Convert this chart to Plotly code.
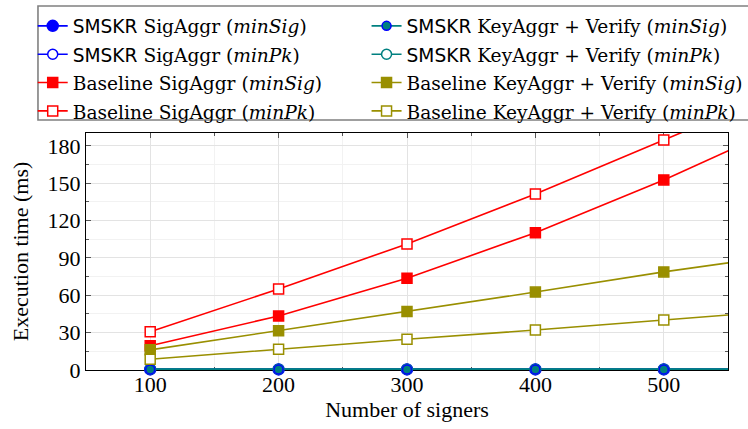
import plotly.graph_objects as go

signers = [100, 200, 300, 400, 500]
ext_x = [500, 600]

smskr_sig_minsig = [0.5, 0.5, 0.5, 0.5, 0.5]
smskr_sig_minpk = [0.6, 0.6, 0.6, 0.6, 0.6]
smskr_key_minsig = [0.5, 0.5, 0.5, 0.5, 0.5]
smskr_key_minpk = [0.7, 0.7, 0.7, 0.7, 0.7]
base_sig_minsig = [19.5, 43.4, 73.7, 110.3, 152.7]
base_sig_minpk = [30.8, 65.1, 101.3, 141.4, 184.8]
base_key_minsig = [16.2, 31.6, 47.0, 62.6, 78.8]
base_key_minpk = [8.6, 16.7, 24.7, 32.1, 40.2]
# continuation of each line beyond the last plotted point (to the right edge)
ext_vals = {
    "smskr_sig_minsig": [0.5, 0.5],
    "smskr_sig_minpk": [0.6, 0.6],
    "smskr_key_minsig": [0.5, 0.5],
    "smskr_key_minpk": [0.7, 0.7],
    "base_sig_minsig": [152.7, 199.3],
    "base_sig_minpk": [184.8, 228.0],
    "base_key_minsig": [78.8, 93.4],
    "base_key_minpk": [40.2, 48.2],
}
y_ticks = [0, 30, 60, 90, 120, 150, 180]

BLUE = "#0000ff"
TEAL = "#008080"
RED = "#ff0000"
OLIVE = "#998f00"
SERIF = "Liberation Serif, Times New Roman, serif"

def lab(t, smskr=False):
    pre = "<span style=\"font-family:DejaVu Sans\">SMSKR</span> " if smskr else ""
    return f"<span style=\"font-family:DejaVu Serif;font-size:18.6px\">{pre}{t}</span>"

# drawing order follows the original (row-wise legend order)
series = [
    ("smskr_sig_minsig", lab("SigAggr (<i>minSig</i>)", True), smskr_sig_minsig, BLUE, "circle", True, "legend", 1, 11),
    ("smskr_sig_minpk", lab("SigAggr (<i>minPk</i>)", True), smskr_sig_minpk, BLUE, "circle", False, "legend", 2, 10),
    ("smskr_key_minpk", lab("KeyAggr + Verify (<i>minPk</i>)", True), smskr_key_minpk, TEAL, "circle", False, "legend2", 2, 10),
    ("smskr_key_minsig", lab("KeyAggr + Verify (<i>minSig</i>)", True), smskr_key_minsig, TEAL, "circle", True, "legend2", 1, 9),
    ("base_sig_minsig", lab("Baseline SigAggr (<i>minSig</i>)"), base_sig_minsig, RED, "square", True, "legend", 3, 10),
    ("base_key_minsig", lab("Baseline KeyAggr + Verify (<i>minSig</i>)"), base_key_minsig, OLIVE, "square", True, "legend2", 3, 10),
    ("base_sig_minpk", lab("Baseline SigAggr (<i>minPk</i>)"), base_sig_minpk, RED, "square", False, "legend", 4, 10),
    ("base_key_minpk", lab("Baseline KeyAggr + Verify (<i>minPk</i>)"), base_key_minpk, OLIVE, "square", False, "legend2", 4, 10),
]

fig = go.Figure()
for key, name, vals, color, sym, filled, leg, rank, msize in series:
    fig.add_trace(go.Scatter(
        x=ext_x, y=ext_vals[key], mode="lines",
        line=dict(color=color, width=1.6), showlegend=False, hoverinfo="skip",
    ))
for key, name, vals, color, sym, filled, leg, rank, msize in series:
    fig.add_trace(go.Scatter(
        x=signers, y=vals, name=name, mode="lines+markers",
        line=dict(color=color, width=1.6),
        marker=dict(symbol=sym, size=msize,
                    color=color if filled else "white",
                    line=dict(color=(BLUE if key == "smskr_key_minsig" else color), width=1.5)),
        cliponaxis=False, legend=leg, legendrank=rank,
    ))

legend_common = dict(
    y=1.533, yanchor="top", orientation="v", bgcolor="rgba(0,0,0,0)", borderwidth=0,
    font=dict(family=SERIF, size=19.5), itemwidth=30,
)

fig.update_layout(
    width=748, height=429,
    margin=dict(l=86, r=20, t=133, b=59, autoexpand=False),
    paper_bgcolor="white", plot_bgcolor="white",
    font=dict(family=SERIF, size=22, color="black"),
    xaxis=dict(
        range=[50, 550], tickvals=signers, ticks="inside", ticklen=5, tickcolor="#555",
        showline=True, linecolor="black", linewidth=1.2, mirror="ticks",
        showgrid=True, gridcolor="#e3e3e3", gridwidth=1, zeroline=False,
        minor=dict(dtick=50, tick0=0, ticks="inside", ticklen=3, tickcolor="#555",
                   showgrid=True, gridcolor="#f2f2f2"),
        title=dict(text="Number of signers", standoff=6, font=dict(size=22)),
        tickfont=dict(size=22), automargin=False, ticklabelstandoff=-6,
        layer="below traces",
    ),
    yaxis=dict(
        range=[0, 190.4], tickvals=y_ticks, ticks="inside", ticklen=5,
        tickcolor="#555",
        showline=True, linecolor="black", linewidth=1.2, mirror="ticks",
        showgrid=True, gridcolor="#e3e3e3", gridwidth=1, zeroline=False,
        minor=dict(dtick=15, tick0=0, ticks="inside", ticklen=3, tickcolor="#555",
                   showgrid=True, gridcolor="#f2f2f2"),
        title=dict(text="Execution time (ms)", standoff=12, font=dict(size=22)),
        tickfont=dict(size=22), automargin=False,
        layer="below traces",
    ),
    legend=dict(x=-0.083, xanchor="left", **legend_common),
    legend2=dict(x=0.437, xanchor="left", **legend_common),
    shapes=[dict(type="rect", xref="paper", yref="paper",
                 x0=-0.0748, x1=1.04, y0=1.055, y1=1.536,
                 line=dict(color="#808080", width=1.6), fillcolor="rgba(0,0,0,0)", layer="above")],
    showlegend=True,
)

fig.write_html("out.html")
